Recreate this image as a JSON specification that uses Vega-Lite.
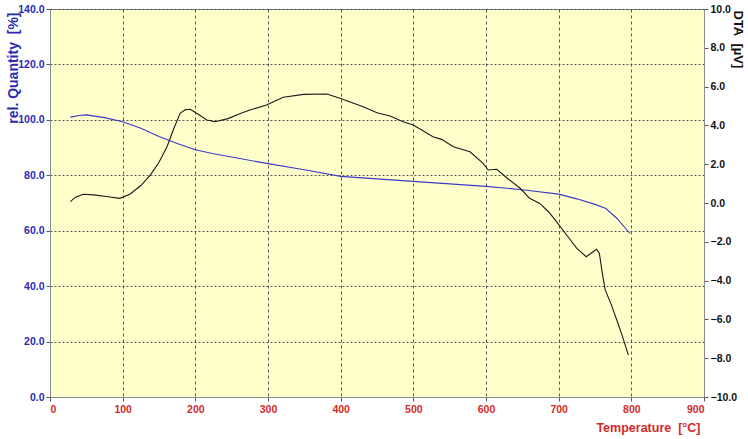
{
  "$schema": "https://vega.github.io/schema/vega-lite/v6.json",
  "width": 654,
  "height": 388,
  "autosize": "none",
  "padding": {"left": 50, "top": 9, "right": 44, "bottom": 42},
  "background": "#FFFFFF",
  "config": {
    "view": {"fill": "#FFFFCC", "stroke": "#8C8C8C", "strokeWidth": 1},
    "axis": {"labelFont": "Liberation Sans Narrow, Liberation Sans", "titleFont": "Liberation Sans Narrow, Liberation Sans", "labelFontWeight": "bold", "titleFontWeight": "bold", "labelFontSize": 10.5, "titleFontSize": 13, "domainColor": "#8C8C8C", "tickColor": "#555555", "tickSize": 4}
  },
  "datasets": {
    "rel": [
      {"T": 28, "v": 101.0}, {"T": 40, "v": 101.6}, {"T": 50, "v": 101.8}, {"T": 75, "v": 100.8},
      {"T": 100, "v": 99.3}, {"T": 125, "v": 97.0}, {"T": 150, "v": 94.0}, {"T": 175, "v": 91.5},
      {"T": 200, "v": 89.2}, {"T": 225, "v": 87.8}, {"T": 250, "v": 86.6}, {"T": 300, "v": 84.2},
      {"T": 350, "v": 82.0}, {"T": 400, "v": 79.6}, {"T": 450, "v": 78.7}, {"T": 500, "v": 77.8},
      {"T": 550, "v": 76.9}, {"T": 600, "v": 76.0}, {"T": 650, "v": 74.8}, {"T": 700, "v": 73.2},
      {"T": 725, "v": 71.5}, {"T": 750, "v": 69.5}, {"T": 765, "v": 68.0}, {"T": 780, "v": 64.5},
      {"T": 798, "v": 59.0}
    ],
    "dta": [
      {"T": 28, "v": 0.07}, {"T": 35, "v": 0.3}, {"T": 46, "v": 0.45}, {"T": 60, "v": 0.42},
      {"T": 80, "v": 0.32}, {"T": 96, "v": 0.24}, {"T": 110, "v": 0.45}, {"T": 125, "v": 0.9},
      {"T": 138, "v": 1.44}, {"T": 150, "v": 2.1}, {"T": 161, "v": 2.9}, {"T": 170, "v": 3.8},
      {"T": 179, "v": 4.62}, {"T": 186, "v": 4.8}, {"T": 193, "v": 4.83}, {"T": 205, "v": 4.55},
      {"T": 216, "v": 4.28}, {"T": 227, "v": 4.19}, {"T": 245, "v": 4.35}, {"T": 261, "v": 4.6},
      {"T": 275, "v": 4.79}, {"T": 298, "v": 5.05}, {"T": 321, "v": 5.45}, {"T": 349, "v": 5.6},
      {"T": 381, "v": 5.62}, {"T": 399, "v": 5.4}, {"T": 431, "v": 4.96}, {"T": 450, "v": 4.65},
      {"T": 468, "v": 4.48}, {"T": 486, "v": 4.19}, {"T": 500, "v": 4.02}, {"T": 527, "v": 3.42},
      {"T": 539, "v": 3.28}, {"T": 555, "v": 2.9}, {"T": 578, "v": 2.64}, {"T": 596, "v": 2.04},
      {"T": 603, "v": 1.7}, {"T": 615, "v": 1.74}, {"T": 630, "v": 1.25}, {"T": 647, "v": 0.76},
      {"T": 660, "v": 0.24}, {"T": 674, "v": -0.02}, {"T": 686, "v": -0.45}, {"T": 697, "v": -0.96},
      {"T": 712, "v": -1.7}, {"T": 725, "v": -2.34}, {"T": 738, "v": -2.77}, {"T": 746, "v": -2.55},
      {"T": 752, "v": -2.39}, {"T": 756, "v": -2.59}, {"T": 760, "v": -3.6}, {"T": 764, "v": -4.48},
      {"T": 772, "v": -5.2}, {"T": 780, "v": -6.03}, {"T": 788, "v": -6.9}, {"T": 796, "v": -7.84}
    ]
  },
  "layer": [
    {
      "data": {"name": "rel"},
      "mark": {"type": "line", "color": "#3A3AC8", "strokeWidth": 1.1},
      "encoding": {
        "x": {"field": "T", "type": "quantitative", "scale": {"domain": [0, 900], "nice": false},
          "axis": {"values": [0, 100, 200, 300, 400, 500, 600, 700, 800, 900], "format": "d", "labelColor": "#D42A2A", "title": "Temperature\u00a0\u00a0[°C]", "titleColor": "#D42A2A", "titleAnchor": "start", "titleX": 650, "titleY": 30, "titleAlign": "right", "titleBaseline": "middle", "titleFontSize": 12.5, "grid": true, "gridColor": "#444444", "gridDash": [3, 3], "gridOpacity": 0.9, "labelPadding": 3}},
        "y": {"field": "v", "type": "quantitative", "scale": {"domain": [0, 140], "nice": false},
          "axis": {"orient": "left", "values": [0, 20, 40, 60, 80, 100, 120, 140], "format": ".1f", "labelColor": "#2A2AB4", "title": "rel. Quantity\u00a0\u00a0[%]", "titleColor": "#2A2AB4", "titleAngle": -90, "titleX": -37, "titleY": 3, "titleAlign": "right", "titleBaseline": "middle", "titleAnchor": "start", "titleFontSize": 14, "grid": true, "gridColor": "#444444", "gridDash": [2, 2], "gridOpacity": 0.9, "labelPadding": 2}}
      }
    },
    {
      "data": {"name": "dta"},
      "mark": {"type": "line", "color": "#1A1A1A", "strokeWidth": 1.1},
      "encoding": {
        "x": {"field": "T", "type": "quantitative"},
        "y": {"field": "v", "type": "quantitative", "scale": {"domain": [-10, 10], "nice": false},
          "axis": {"orient": "right", "values": [-10, -8, -6, -4, -2, 0, 2, 4, 6, 8, 10], "format": ".1f", "labelColor": "#111111", "title": "DTA\u00a0\u00a0[µV]", "titleColor": "#111111", "titleAngle": 90, "titleX": 33, "titleY": 1, "titleAlign": "left", "titleBaseline": "middle", "titleAnchor": "start", "grid": false, "labelPadding": 2}}
      }
    }
  ],
  "resolve": {"scale": {"y": "independent"}}
}
